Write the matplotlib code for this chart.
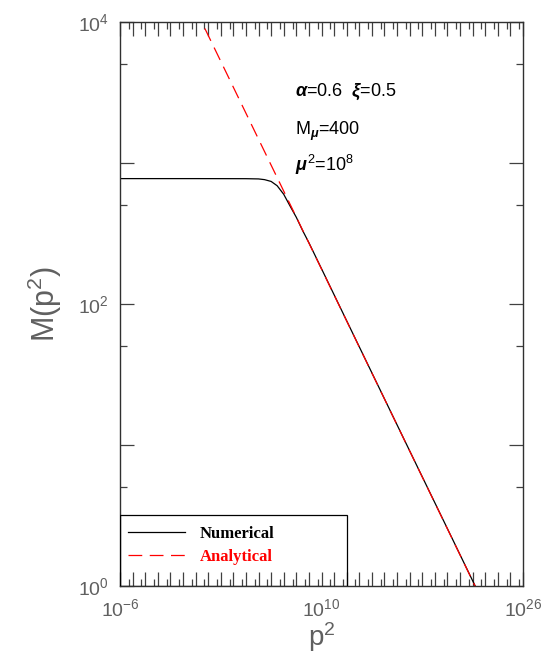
import matplotlib
matplotlib.use("Agg")
import matplotlib.pyplot as plt
from matplotlib.ticker import LogLocator, FuncFormatter
from matplotlib.patches import Rectangle
import numpy as np

# values (log-log axes)
p2_num = [1e-6, 1e0, 1e4, 1e5, 3e5, 1e6, 3e6, 1e7, 3e7, 1e8, 3e8, 1e9,
          1e10, 1e12, 1e14, 1e16, 1e18, 1e20, 1e22, 1.6e22]
m_num = [775, 775, 774, 771, 762, 740, 690, 600, 500, 412, 335, 272,
         178, 76, 32.5, 13.9, 5.95, 2.55, 1.09, 1.0]

p2_ana = [1e0, 1e5, 1e10, 1e15, 1e20, 1e23]
m_ana = [12300, 1476, 177, 21.2, 2.54, 0.71]

series_labels = ["Numerical", "Analytical"]
x_labelled = [-6, 10, 26]
y_labelled = [0, 2, 4]

plt.rcParams["font.family"] = ["Liberation Sans", "DejaVu Sans"]
plt.rcParams["mathtext.fontset"] = "custom"
plt.rcParams["mathtext.rm"] = "Liberation Sans"
plt.rcParams["mathtext.it"] = "Liberation Sans:italic:bold"
plt.rcParams["mathtext.bf"] = "Liberation Sans:bold"

grey = "#606060"

fig = plt.figure(figsize=(5.43, 6.64), dpi=100)
ax = fig.add_axes([120 / 543, 1 - 586 / 664, 403 / 543, 564 / 664])

ax.plot(p2_num, m_num, color="black", lw=0.9, label=series_labels[0])
ax.plot(p2_ana, m_ana, color="red", lw=0.9, dashes=(11, 6), label=series_labels[1])

ax.set_xscale("log")
ax.set_yscale("log")
ax.set_xlim(1e-6, 1e26)
ax.set_ylim(1e0, 1e4)

ax.xaxis.set_major_locator(LogLocator(base=10, numticks=100))
ax.xaxis.set_minor_locator(LogLocator(base=10, subs=[5], numticks=100))
ax.yaxis.set_major_locator(LogLocator(base=10, numticks=100))
ax.yaxis.set_minor_locator(LogLocator(base=10, subs=[5], numticks=100))


def make_fmt(keep):
    def fmt(v, pos):
        e = int(round(np.log10(v)))
        if e in keep:
            return r"$\mathregular{10^{%d}}$" % e
        return ""
    return fmt


ax.xaxis.set_major_formatter(FuncFormatter(make_fmt(x_labelled)))
ax.yaxis.set_major_formatter(FuncFormatter(make_fmt(y_labelled)))
ax.xaxis.set_minor_formatter(FuncFormatter(lambda v, p: ""))
ax.yaxis.set_minor_formatter(FuncFormatter(lambda v, p: ""))

ax.tick_params(which="both", direction="in", top=True, right=True,
               color="#404040", width=0.9)
ax.tick_params(which="major", length=10, labelsize=14, labelcolor=grey)
ax.tick_params(which="minor", length=5)
ax.tick_params(axis="x", which="major", pad=9)
ax.tick_params(axis="y", which="major", pad=8)
for s in ax.spines.values():
    s.set_color("#303030")
    s.set_linewidth(1.0)

ax.set_xlabel(r"p$^{\mathregular{2}}$", fontsize=20, color=grey, labelpad=0)
ax.set_ylabel(r"M(p$^{\mathregular{2}}$)", fontsize=22, color=grey, labelpad=10)

ax.text(0.434, 0.876, r"$\alpha$=0.6  $\xi$=0.5", transform=ax.transAxes,
        fontsize=13, va="center", ha="left")
ax.text(0.434, 0.806, r"M$_{\mu}$=400", transform=ax.transAxes,
        fontsize=13, va="center", ha="left")
ax.text(0.434, 0.746, r"$\mu^{\mathregular{2}}$=10$^{\mathregular{8}}$",
        transform=ax.transAxes, fontsize=13, va="center", ha="left")

ax.add_patch(Rectangle((0, 0), 0.564, 0.1264, transform=ax.transAxes,
                       fill=False, edgecolor="black", lw=0.9, zorder=5))
leg = ax.legend(loc="upper left", bbox_to_anchor=(0.02, 0.106), frameon=False,
                borderpad=0, borderaxespad=0, handlelength=3.4,
                handletextpad=0.9, labelspacing=0.4, labelcolor="linecolor",
                prop={"family": "Liberation Serif", "weight": "bold", "size": 12})

fig.savefig("out.png", dpi=100)
